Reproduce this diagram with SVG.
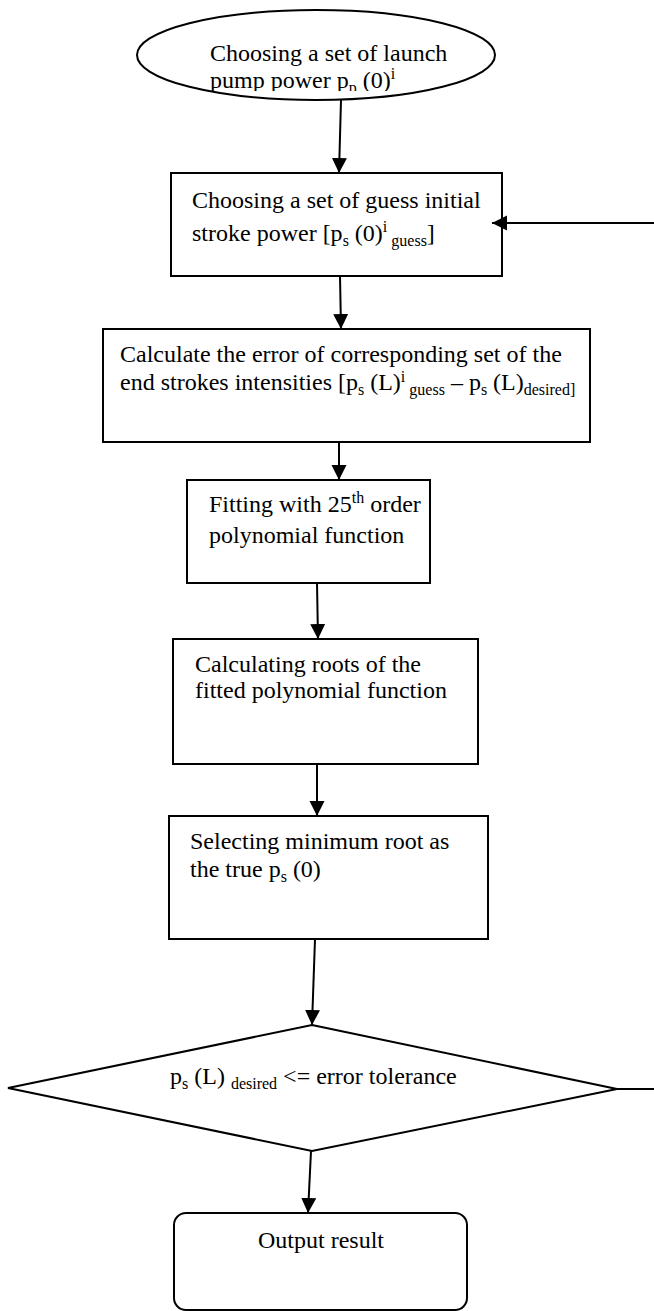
<svg xmlns="http://www.w3.org/2000/svg" width="654" height="1311" viewBox="0 0 654 1311">
<style>
text { font-family: "Liberation Serif", "Times New Roman", serif; font-size: 24px; fill: #000; }
.s { font-size: 16px; }
.box { fill: #fff; stroke: #000; stroke-width: 2; }
.conn { stroke: #000; stroke-width: 2; fill: none; }
</style>
<defs>
<marker id="ah" markerUnits="userSpaceOnUse" markerWidth="16" markerHeight="16" refX="15" refY="7.5" orient="auto">
<path d="M0,0 L15,7.5 L0,15 z" fill="#000"/>
</marker>
<clipPath id="ec"><rect x="130" y="0" width="400" height="91"/></clipPath>
</defs>
<rect width="654" height="1311" fill="#fff"/>

<g id="start">
<ellipse class="box" cx="316" cy="55" rx="179" ry="45"/>
<g clip-path="url(#ec)">
<text x="210" y="61">Choosing a set of launch</text>
<text x="210" y="88">pump power p<tspan class="s" dy="5">p</tspan><tspan dy="-5"> (0)</tspan><tspan class="s" dy="-9">i</tspan></text>
</g>
</g>

<g id="guess">
<rect class="box" x="171" y="173" width="331" height="103"/>
<text x="192" y="208">Choosing a set of guess initial</text>
<text x="192" y="241">stroke power [p<tspan class="s" dy="5">s</tspan><tspan dy="-5"> (0)</tspan><tspan class="s" dy="-9">i</tspan><tspan class="s" dy="14"> guess</tspan><tspan dy="-5">]</tspan></text>
</g>

<g id="error">
<rect class="box" x="103" y="329" width="487" height="113"/>
<text x="120" y="362">Calculate the error of corresponding set of the</text>
<text x="120" y="390">end strokes intensities [p<tspan class="s" dy="5">s</tspan><tspan dy="-5"> (L)</tspan><tspan class="s" dy="-8">i</tspan><tspan class="s" dy="13"> guess</tspan><tspan dy="-5"> – p</tspan><tspan class="s" dy="5">s</tspan><tspan dy="-5"> (L)</tspan><tspan class="s" dy="5">desired]</tspan></text>
</g>

<g id="fit">
<rect class="box" x="187" y="480" width="243" height="103"/>
<text x="209" y="512">Fitting with 25<tspan class="s" dy="-9">th</tspan><tspan dy="9"> order</tspan></text>
<text x="209" y="543">polynomial function</text>
</g>

<g id="roots">
<rect class="box" x="173" y="639" width="305" height="125"/>
<text x="195" y="672">Calculating roots of the</text>
<text x="195" y="698">fitted polynomial function</text>
</g>

<g id="select">
<rect class="box" x="169" y="816" width="319" height="123"/>
<text x="190" y="849">Selecting minimum root as</text>
<text x="190" y="877">the true p<tspan class="s" dy="5">s</tspan><tspan dy="-5"> (0)</tspan></text>
</g>

<g id="decision">
<polygon class="box" points="312,1025 617,1089 312,1151 8,1088"/>
<text x="170" y="1084">p<tspan class="s" dy="5">s</tspan><tspan dy="-5"> (L) </tspan><tspan class="s" dy="5">desired</tspan><tspan dy="-5"> &lt;= error tolerance</tspan></text>
</g>

<g id="output">
<rect class="box" x="174" y="1213" width="293" height="97" rx="12" ry="12"/>
<text x="321" y="1248" text-anchor="middle">Output result</text>
</g>

<g id="connectors">
<line class="conn" x1="341" y1="100" x2="339" y2="173" marker-end="url(#ah)"/>
<line class="conn" x1="340" y1="276" x2="341" y2="329" marker-end="url(#ah)"/>
<line class="conn" x1="339" y1="442" x2="339" y2="480" marker-end="url(#ah)"/>
<line class="conn" x1="317" y1="583" x2="318" y2="639" marker-end="url(#ah)"/>
<line class="conn" x1="317" y1="764" x2="317" y2="816" marker-end="url(#ah)"/>
<line class="conn" x1="315" y1="939" x2="312" y2="1025" marker-end="url(#ah)"/>
<line class="conn" x1="311" y1="1151" x2="308" y2="1213" marker-end="url(#ah)"/>
<line class="conn" x1="654" y1="223" x2="492" y2="223" marker-end="url(#ah)"/>
<line class="conn" x1="617" y1="1089" x2="654" y2="1089"/>
</g>
</svg>
